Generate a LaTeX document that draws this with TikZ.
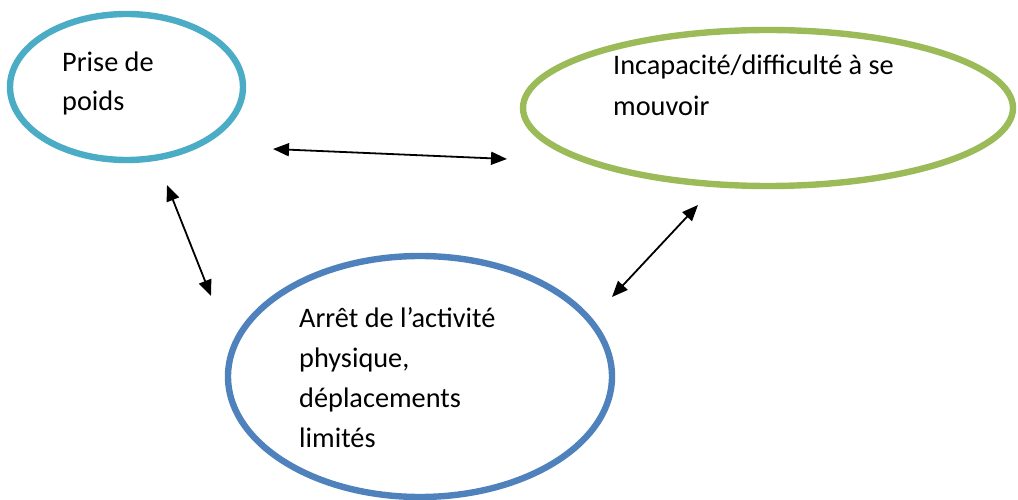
\documentclass[tikz,border=0pt]{standalone}
\usepackage{fontspec}
\setmainfont{Carlito}
\usetikzlibrary{shapes.geometric,arrows.meta}
\definecolor{tealring}{HTML}{4BACC6}
\definecolor{greenring}{HTML}{9BBB59}
\definecolor{bluering}{HTML}{4F81BD}
\tikzset{
  ring/.style={ellipse, draw=#1, line width=6.4pt, inner sep=0pt},
  label line/.style={anchor=base west, inner sep=0pt, font=\fontsize{28.3}{40}\selectfont},
  link/.style={line width=1.8pt, {Triangle[length=16pt,width=13pt]}-{Triangle[length=16pt,width=13pt]}}
}
\begin{document}
\begin{tikzpicture}[x=1pt,y=-1pt]
  \useasboundingbox (0,0) rectangle (1018,500);
  % three ellipses
  \node[ring=tealring, minimum width=233pt, minimum height=146pt] (poids) at (126.5,87) {};
  \node[ring=greenring, minimum width=490pt, minimum height=156pt] (mouvoir) at (768,108) {};
  \node[ring=bluering, minimum width=384pt, minimum height=241pt] (arret) at (420,376.5) {};
  % labels
  \node[label line] (p1) at (62,72) {Prise de};
  \node[label line] (p2) at (62,111) {poids};
  \node[label line] (m1) at (613,74.5) {Incapacité/difficulté à se};
  \node[label line] (m2) at (613,115.5) {mouvoir};
  \node[label line] (a1) at (299,327) {Arrêt de l’activité};
  \node[label line] (a2) at (299,367) {physique,};
  \node[label line] (a3) at (299,407) {déplacements};
  \node[label line] (a4) at (299,447) {limités};
  % arrow end points
  \coordinate (h1) at (273,149);
  \coordinate (h2) at (507,159);
  \coordinate (l1) at (167,185);
  \coordinate (l2) at (211,296);
  \coordinate (r1) at (698,205);
  \coordinate (r2) at (612,297);
  % two-way links
  \draw[link] (h1) -- (h2);
  \draw[link] (l1) -- (l2);
  \draw[link] (r1) -- (r2);
\end{tikzpicture}
\end{document}
